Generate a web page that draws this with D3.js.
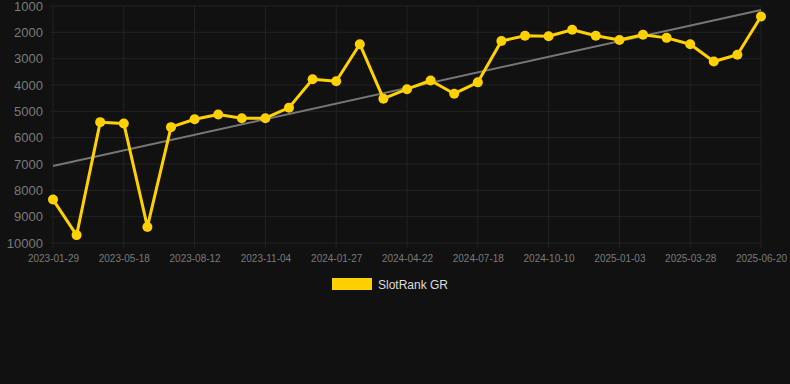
<!DOCTYPE html>
<html>
<head>
<meta charset="utf-8">
<script src="https://cdn.jsdelivr.net/npm/d3@7"></script>
<style>
  html, body { margin: 0; padding: 0; background: #111111; }
  svg { display: block; }
</style>
</head>
<body>
<svg width="790" height="384"></svg>
<script>
// data
var dates = ["2023-01-29", "2023-03-05", "2023-04-14", "2023-05-18", "2023-06-15", "2023-07-14",
    "2023-08-12", "2023-09-09", "2023-10-07", "2023-11-04", "2023-12-02", "2023-12-30",
    "2024-01-27", "2024-02-24", "2024-03-25", "2024-04-22", "2024-05-21", "2024-06-19",
    "2024-07-18", "2024-08-15", "2024-09-12", "2024-10-10", "2024-11-07", "2024-12-06",
    "2025-01-03", "2025-01-31", "2025-02-28", "2025-03-28", "2025-04-25", "2025-05-23", "2025-06-20"];
var ranks = [8350, 9700, 5410, 5460, 9390, 5600, 5300, 5120, 5260, 5260, 4860, 3780,
    3860, 2450, 4520, 4160, 3830, 4330, 3900, 2330, 2130, 2150, 1900, 2130,
    2290, 2090, 2210, 2450, 3110, 2850, 1400];
var yTicks = [1000, 2000, 3000, 4000, 5000, 6000, 7000, 8000, 9000, 10000];
var seriesName = "SlotRank GR";

function makechart() {
    var svg = d3.select("svg"),
        margin = {left: 53, right: 761, top: 6, bottom: 243};

    var x = d3.scalePoint().domain(dates).range([margin.left, margin.right]);
    var y = d3.scaleLinear().domain([1000, 10000]).range([margin.top, margin.bottom]);

    var gridColor = "#232323", labelColor = "#7a7a7a", gold = "#ffd100";
    var font = "'Liberation Sans', Arial, sans-serif";

    // horizontal grid
    svg.append("g").selectAll("line").data(yTicks).enter().append("line")
        .attr("x1", margin.left - 3).attr("x2", margin.right)
        .attr("y1", function(d) { return y(d); }).attr("y2", function(d) { return y(d); })
        .attr("stroke", gridColor).attr("stroke-width", 1);

    // vertical grid, every third date
    var shown = dates.filter(function(d, i) { return i % 3 == 0; });
    svg.append("g").selectAll("line").data(shown).enter().append("line")
        .attr("x1", function(d) { return x(d); }).attr("x2", function(d) { return x(d); })
        .attr("y1", margin.top).attr("y2", margin.bottom + 5)
        .attr("stroke", gridColor).attr("stroke-width", 1);

    // y axis labels
    var yAxis = svg.append("g")
        .attr("transform", "translate(" + (margin.left - 10) + ",0)")
        .call(d3.axisLeft(y).tickValues(yTicks).tickSize(0).tickPadding(0).tickFormat(d3.format("d")));
    yAxis.select(".domain").remove();
    yAxis.selectAll("text")
        .attr("fill", labelColor)
        .style("font-family", font)
        .style("font-size", "13px");

    // x axis labels
    var xAxis = svg.append("g")
        .attr("transform", "translate(0," + margin.bottom + ")")
        .call(d3.axisBottom(x).tickValues(shown).tickSize(0).tickPadding(12));
    xAxis.select(".domain").remove();
    xAxis.selectAll("text")
        .attr("fill", labelColor)
        .style("font-family", font)
        .style("font-size", "10px");

    // trend line (least squares on index)
    var n = ranks.length, sx = 0, sy = 0, sxy = 0, sxx = 0;
    ranks.forEach(function(v, i) { sx += i; sy += v; sxy += i * v; sxx += i * i; });
    var slope = (n * sxy - sx * sy) / (n * sxx - sx * sx),
        icpt = (sy - slope * sx) / n;
    svg.append("line")
        .attr("x1", x(dates[0])).attr("y1", y(icpt))
        .attr("x2", x(dates[n - 1])).attr("y2", y(icpt + slope * (n - 1)))
        .attr("stroke", "#777").attr("stroke-width", 2);

    // series
    var line = d3.line()
        .x(function(d, i) { return x(dates[i]); })
        .y(function(d) { return y(d); });
    svg.append("path")
        .datum(ranks)
        .attr("d", line)
        .attr("fill", "none")
        .attr("stroke", gold)
        .attr("stroke-width", 3)
        .attr("stroke-linejoin", "round");
    svg.append("g").selectAll("circle").data(ranks).enter().append("circle")
        .attr("cx", function(d, i) { return x(dates[i]); })
        .attr("cy", function(d) { return y(d); })
        .attr("r", 5)
        .attr("fill", gold);

    // legend
    svg.append("rect").attr("x", 332).attr("y", 278).attr("width", 40).attr("height", 12).attr("fill", gold);
    svg.append("text").attr("x", 378).attr("y", 289)
        .attr("fill", "#dddddd")
        .style("font-family", font)
        .style("font-size", "12px")
        .text(seriesName);
}

makechart();
</script>
</body>
</html>
